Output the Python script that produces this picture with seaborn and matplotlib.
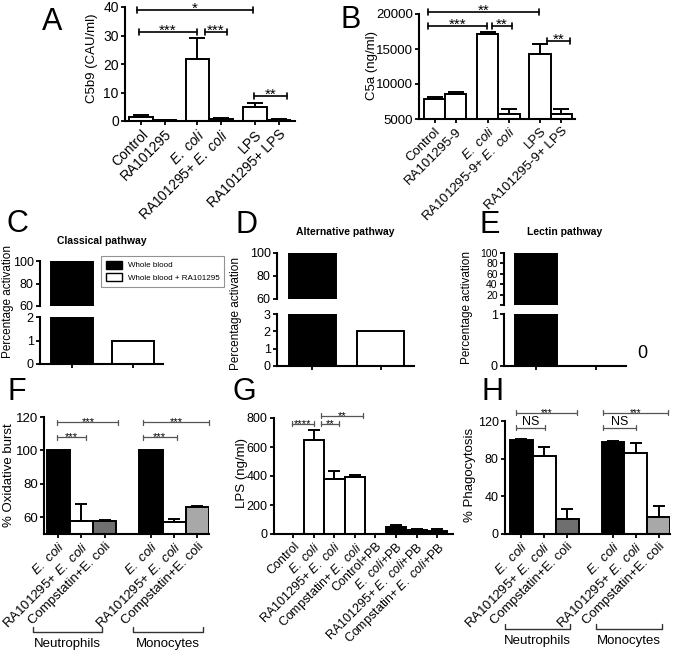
import matplotlib.pyplot as plt
import matplotlib.lines as mlines
import matplotlib.patches as mpatches
import numpy as np
import pandas as pd
import seaborn as sns

ECOLI = r"$\mathit{E.\ coli}$"

# ---- data ----
a_labels = ["Control", "RA101295", ECOLI, "RA101295+ " + ECOLI, "LPS", "RA101295+ LPS"]
a_vals = [1.5, 0.3, 21.8, 0.8, 4.8, 0.5]
a_err = [0.7, 0.1, 7.2, 0.3, 1.6, 0.2]
a_sig = [(-0.17, 4.77, 38.9, "*"), (-0.09, 2.38, 31.3, "***"),
         (2.72, 3.66, 31.3, "***"), (4.8, 6.2, 8.7, "**")]

b_labels = ["Control", "RA101295-9", ECOLI, "RA101295-9+ " + ECOLI, "LPS", "RA101295-9+ LPS"]
b_vals = [7800, 8600, 17200, 5700, 14300, 5700]
b_err = [400, 300, 250, 700, 1400, 700]
b_sig = [(-0.31, 4.91, 20330, "**"), (-0.31, 2.46, 18330, "***"),
         (2.7, 3.64, 18330, "**"), (5.28, 6.36, 16190, "**")]

pathway_groups = ["Whole blood", "Whole blood + RA101295"]
c_vals = [100, 1]
d_vals = [100, 2]
e_vals = [100, 0]

cell_labels = [ECOLI, "RA101295+ " + ECOLI, "Compstatin+E. coli"] * 2
f_vals = [100, 58, 58, 100, 57, 66]
f_err = [0, 10, 0.5, 0, 2, 0.7]
f_sig = [(-0.04, 2.6, 117, "***"), (-0.04, 1.2, 108, "***"),
         (3.65, 6.5, 117, "***"), (3.65, 5.1, 108, "***")]

g_labels = ["Control", ECOLI, "RA101295+ " + ECOLI, "Compstatin+ " + ECOLI,
            "Control+PB", ECOLI + "+PB", "RA101295+ " + ECOLI + "+PB",
            "Compstatin+ " + ECOLI + "+PB"]
g_vals = [0, 645, 378, 395, 0, 48, 25, 22]
g_err = [0, 70, 55, 15, 0, 12, 12, 10]
g_sig = [(-0.07, 1.0, 759, "****"), (1.34, 2.2, 759, "**"), (1.34, 3.39, 814, "**")]

h_vals = [100, 83, 16, 98, 86, 18]
h_err = [0.5, 9, 11, 1, 11, 12]
h_sig = [(-0.22, 2.43, 128.5, "***"), (-0.22, 1.04, 112.6, "NS"),
         (3.57, 6.4, 128.5, "***"), (3.57, 5.0, 112.6, "NS")]

# ---- layout ----
W, H = 677, 653
sns.set_theme(style="ticks")
plt.rcParams["font.family"] = ["Liberation Sans", "DejaVu Sans"]
plt.rcParams["mathtext.fontset"] = "custom"
plt.rcParams["mathtext.rm"] = "Liberation Sans"
plt.rcParams["mathtext.it"] = "Liberation Sans:italic"
plt.rcParams["text.color"] = "black"

fig = plt.figure(figsize=(W / 100, H / 100), dpi=100)

DARK, LIGHT = "#6f6f6f", "#a8a8a8"


def px_axes(x0, y0, x1, y1):
    return fig.add_axes([x0 / W, 1 - y1 / H, (x1 - x0) / W, (y1 - y0) / H])


def fx(x):
    return x / W


def fy(y):
    return 1 - y / H


def style(ax, fs=10):
    sns.despine(ax=ax)
    for s in ("left", "bottom"):
        ax.spines[s].set_linewidth(1.5)
        ax.spines[s].set_color("black")
    ax.tick_params(axis="both", direction="out", length=3, width=1.3, pad=1.5,
                   labelsize=fs, color="black", labelcolor="black")


def bars(ax, slots, vals, colors, width=1.0, err=None, capsize=6, lw=1.4):
    df = pd.DataFrame({"slot": slots, "value": vals})
    sns.barplot(data=df, x="slot", y="value", native_scale=True, width=width,
                color="white", edgecolor="black", linewidth=lw, errorbar=None, ax=ax)
    patches = sorted(ax.patches, key=lambda p: p.get_x())
    for p, c in zip(patches, colors):
        p.set_facecolor(c)
    if err is not None:
        keep = [i for i, e in enumerate(err) if e > 0]
        ax.errorbar([slots[i] for i in keep], [vals[i] for i in keep],
                    yerr=[[0] * len(keep), [err[i] for i in keep]], fmt="none",
                    ecolor="black", elinewidth=lw, capsize=capsize, capthick=lw, zorder=1)
    ax.set_xlabel("")
    ax.set_ylabel("")
    return patches


def ylabel(ax, text, x, y, fs):
    ax.set_ylabel(text, fontsize=fs, color="black")
    ax.yaxis.set_label_coords(fx(x), fy(y), transform=fig.transFigure)
    ax.yaxis.label.set_va("center")


def brackets(ax, sig, tick_px, fs, color="black", lw=1.2, gap=-2, ns_fs=9):
    y0, y1 = ax.get_ylim()
    hpx = ax.get_position().height * H
    d = tick_px * (y1 - y0) / hpx
    for a, b, y, txt in sig:
        ax.plot([a, b], [y, y], color=color, lw=lw, clip_on=False)
        for xx in (a, b):
            ax.plot([xx, xx], [y - d, y + d], color=color, lw=lw, clip_on=False)
        if txt == "NS":
            ax.annotate(txt, ((a + b) / 2, y), xytext=(0, 2), textcoords="offset points",
                        ha="center", va="baseline", fontsize=ns_fs, annotation_clip=False)
        else:
            ax.annotate(txt, ((a + b) / 2, y), xytext=(0, gap), textcoords="offset points",
                        ha="center", va="baseline", fontsize=fs, annotation_clip=False)


def xlabels(ax, slots, labels, fs):
    ax.set_xticks(slots)
    ax.set_xticklabels(labels, rotation=45, ha="right", rotation_mode="anchor", fontsize=fs)


def letter(t, x, y):
    fig.text(fx(x), fy(y), t, fontsize=22, ha="left", va="baseline")


def group_bracket(x0, x1, y, text, ty):
    fig.add_artist(mlines.Line2D([fx(x0), fx(x0), fx(x1), fx(x1)],
                                 [fy(y - 5), fy(y), fy(y), fy(y - 5)],
                                 color="#333333", lw=1.0, transform=fig.transFigure))
    fig.text(fx((x0 + x1) / 2), fy(ty), text, fontsize=9.5, ha="center", va="center")


# ---- A ----
ax = px_axes(125, 7, 295, 121)
a_slots = [0, 1, 2.4, 3.4, 4.85, 5.85]
bars(ax, a_slots, a_vals, ["white"] * 6, err=a_err)
ax.set_xlim(-0.68, 6.55)
ax.set_ylim(0, 40)
ax.set_yticks(range(0, 41, 10))
style(ax, 10)
xlabels(ax, a_slots, a_labels, 10)
ylabel(ax, "C5b9 (CAU/ml)", 92, 58, 9.5)
brackets(ax, a_sig, 3, 11)
letter("A", 42, 30)

# ---- B ----
ax = px_axes(419, 14, 575, 119)
b_slots = [0, 1, 2.5, 3.5, 4.95, 5.95]
bars(ax, b_slots, b_vals, ["white"] * 6, err=b_err)
ax.set_xlim(-0.73, 6.6)
ax.set_ylim(5000, 20000)
ax.set_yticks(range(5000, 20001, 5000))
style(ax, 9.5)
xlabels(ax, b_slots, b_labels, 9.5)
ylabel(ax, "C5a (ng/ml)", 372, 66, 9.5)
brackets(ax, b_sig, 3, 11)
letter("B", 340, 28)


# ---- C, D, E (broken axes) ----
def broken(top_box, bot_box, vals, top_lim, top_ticks, top_labels, bot_lim, bot_ticks,
           top_fs=9):
    top = px_axes(*top_box)
    bot = px_axes(*bot_box)
    for axx in (top, bot):
        patches = bars(axx, [0, 1], vals, ["black", "white"], width=0.69)
        axx.set_xlim(-0.52, 1.49)
        style(axx, 9)
        if axx is top:
            for p in patches:
                if p.get_height() <= top_lim[0]:
                    p.set_visible(False)
    top.set_ylim(*top_lim)
    top.set_yticks(top_ticks)
    top.set_yticklabels(top_labels)
    top.tick_params(axis="y", labelsize=top_fs)
    top.spines["bottom"].set_visible(False)
    top.tick_params(axis="x", bottom=False, labelbottom=False)
    bot.set_ylim(*bot_lim)
    bot.set_yticks(bot_ticks)
    bot.set_xticks([0, 1])
    bot.set_xticklabels(["", ""])
    return top, bot


top, bot = broken((40, 261, 163, 306), (40, 317, 163, 364), c_vals,
                  (60, 100), [60, 80, 100], ["60", "80", "100"], (0, 2), [0, 1, 2])
ylabel(bot, "Percentage activation", 8, 302, 8.5)
fig.text(fx(102), fy(241), "Classical pathway", fontsize=7.5, weight="bold", ha="center", va="center")
handles = [mpatches.Patch(facecolor="black", edgecolor="black", label=pathway_groups[0]),
           mpatches.Patch(facecolor="white", edgecolor="black", label=pathway_groups[1])]
leg = fig.legend(handles=handles, loc="upper left", bbox_to_anchor=(fx(101), fy(256)),
                 frameon=True, fancybox=False, edgecolor="#777777", fontsize=5.8,
                 handlelength=2.0, handleheight=1.1, borderpad=0.6, labelspacing=0.5,
                 handletextpad=0.7, borderaxespad=0)
leg.get_frame().set_linewidth(0.8)
letter("C", 7, 232)

top, bot = broken((277, 253, 414, 299), (277, 314, 414, 366), d_vals,
                  (60, 100), [60, 80, 100], ["60", "80", "100"], (0, 3), [0, 1, 2, 3])
ylabel(bot, "Percentage activation", 236, 313, 8.5)
fig.text(fx(345), fy(232), "Alternative pathway", fontsize=7.5, weight="bold", ha="center", va="center")
letter("D", 235, 233)

top, bot = broken((504, 253, 626, 305), (504, 314, 626, 366), e_vals,
                  (0, 100), [0, 20, 40, 60, 80, 100], ["", "20", "40", "60", "80", "100"],
                  (0, 1), [0, 1], top_fs=7.5)
ylabel(bot, "Percentage activation", 467, 308, 8.5)
fig.text(fx(565), fy(232), "Lectin pathway", fontsize=7.5, weight="bold", ha="center", va="center")
fig.text(fx(642), fy(353), "0", fontsize=13, ha="center", va="center")
letter("E", 480, 233)

# ---- F ----
ax = px_axes(44, 417, 209, 534)
cell_slots = [0, 1, 2, 4, 5, 6]
bars(ax, cell_slots, f_vals, ["black", "white", DARK, "black", "white", LIGHT],
     err=f_err, capsize=4.5)
ax.set_xlim(-0.61, 6.5)
ax.set_ylim(50, 120)
ax.set_yticks([60, 80, 100, 120])
style(ax, 9.5)
xlabels(ax, cell_slots, cell_labels, 9.5)
ylabel(ax, "% Oxidative burst", 9, 475, 9.5)
brackets(ax, f_sig, 2.5, 8, color="#555555", lw=0.9)
group_bracket(33, 102, 632, "Neutrophils", 644)
group_bracket(133, 203, 632, "Monocytes", 644)
letter("F", 8, 400)

# ---- G ----
ax = px_axes(274, 418, 453, 534)
g_slots = list(range(8))
bars(ax, g_slots, g_vals, ["white"] * 4 + ["black"] * 4, err=g_err, capsize=4.5)
ax.set_xlim(-0.95, 7.78)
ax.set_ylim(0, 800)
ax.set_yticks(range(0, 801, 200))
style(ax, 9)
xlabels(ax, g_slots, g_labels, 9)
ylabel(ax, "LPS (ng/ml)", 242, 473, 9.5)
brackets(ax, g_sig, 2.5, 8, color="#555555", lw=0.9)
letter("G", 233, 400)

# ---- H ----
ax = px_axes(505, 421, 670, 534)
bars(ax, cell_slots, h_vals, ["black", "white", DARK, "black", "white", LIGHT],
     err=h_err, capsize=4.5)
ax.set_xlim(-0.7, 6.48)
ax.set_ylim(0, 120)
ax.set_yticks([0, 40, 80, 120])
style(ax, 9)
xlabels(ax, cell_slots, cell_labels, 9.5)
ylabel(ax, "% Phagocytosis", 470, 475, 9.5)
brackets(ax, h_sig, 2.5, 7, color="#555555", lw=0.9, ns_fs=9)
group_bracket(505, 570, 629, "Neutrophils", 641)
group_bracket(596, 662, 629, "Monocytes", 641)
letter("H", 482, 400)

fig.savefig("out.png", dpi=100)
